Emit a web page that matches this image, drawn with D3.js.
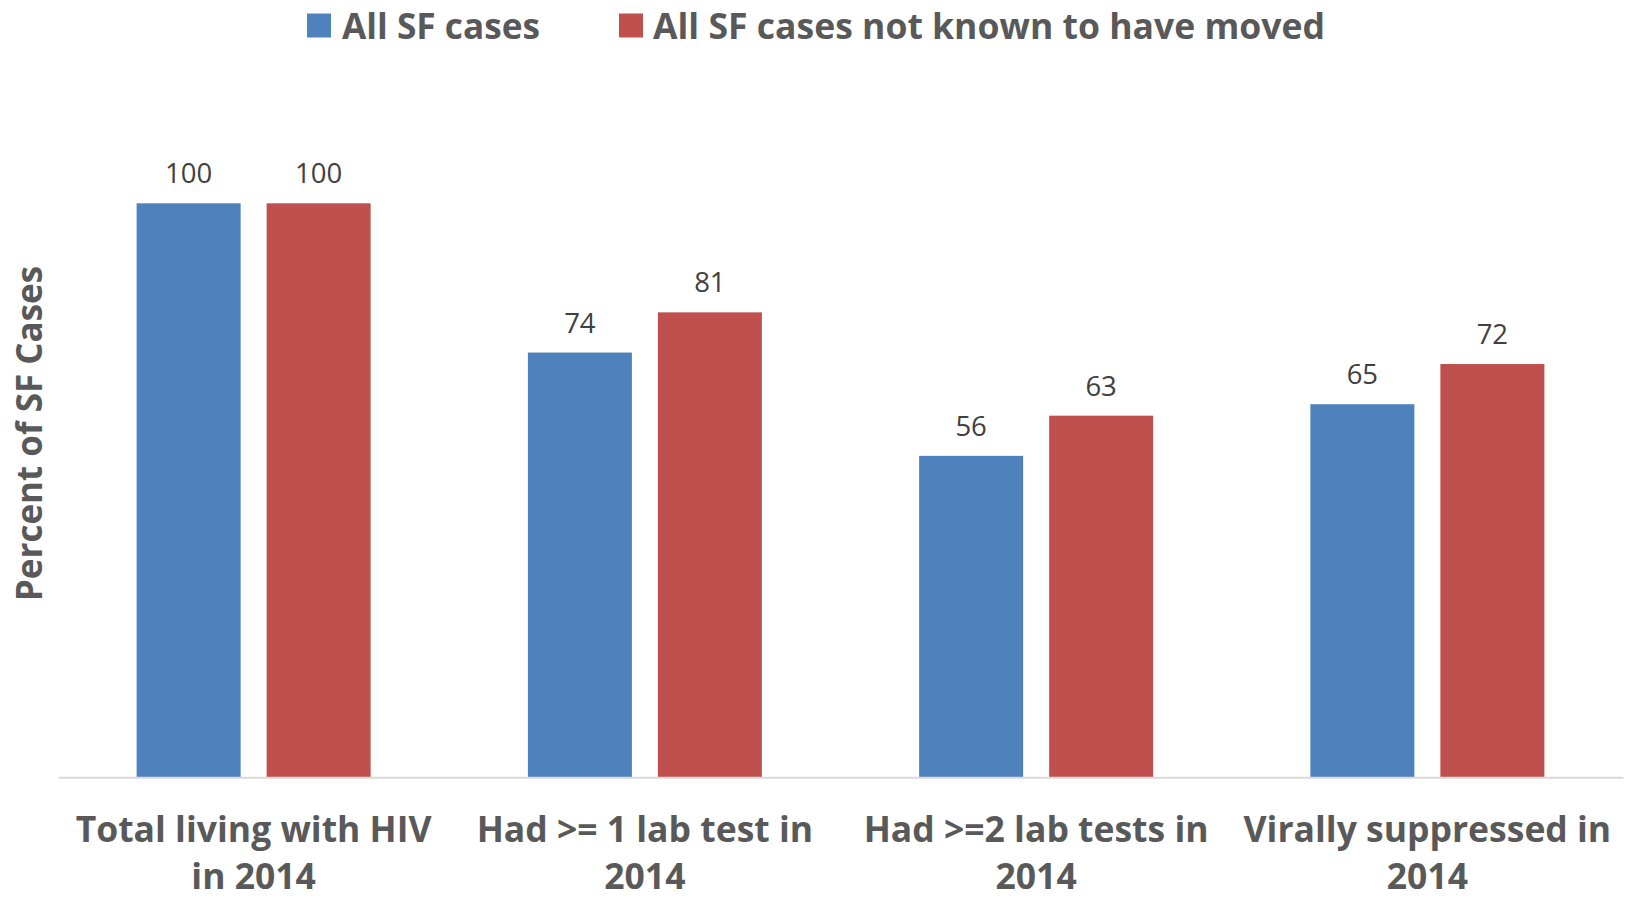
<!DOCTYPE html>
<html>
<head>
<meta charset="utf-8">
<script src="https://cdn.jsdelivr.net/npm/d3@7"></script>
<style>
  html, body { margin: 0; padding: 0; background: #ffffff; }
  svg { display: block; }
  text { font-family: "Open Sans", "Noto Sans", sans-serif; }
</style>
</head>
<body>
<svg id="chart" width="1628" height="901"></svg>
<script>
// ---- Data ----
const categories = [
  ["Total living with HIV", "in 2014"],
  ["Had >= 1 lab test in", "2014"],
  ["Had >=2 lab tests in", "2014"],
  ["Virally suppressed in", "2014"]
];
const seriesNames = ["All SF cases", "All SF cases not known to have moved"];
const allCases = [100, 74, 56, 65];
const notMoved = [100, 81, 63, 72];
const seriesValues = [allCases, notMoved];
const colors = ["#4F81BD", "#C0504D"];
const yTitle = "Percent of SF Cases";

// ---- Layout ----
const W = 1628, H = 901;
const plotLeft = 58, plotRight = 1623;
const baseY = 777.3, topY = 203.3;

const svg = d3.select("#chart");

const catKeys = categories.map((c, i) => i);
const x0 = d3.scaleBand().domain(catKeys).range([plotLeft, plotRight]).paddingInner(0).paddingOuter(0);
const groupW = 234;
const x1 = d3.scaleBand().domain(d3.range(seriesNames.length))
  .range([(x0.bandwidth() - groupW) / 2, (x0.bandwidth() + groupW) / 2])
  .paddingInner(0.2).paddingOuter(0);
const y = d3.scaleLinear().domain([0, 100]).range([baseY, topY]);

// Bars
const groups = svg.append("g").selectAll("g")
  .data(catKeys).join("g")
  .attr("transform", d => `translate(${x0(d)},0)`);

groups.selectAll("rect")
  .data(ci => seriesValues.map((vals, si) => ({ si, v: vals[ci] })))
  .join("rect")
  .attr("x", d => x1(d.si))
  .attr("width", x1.bandwidth())
  .attr("y", d => y(d.v))
  .attr("height", d => baseY - y(d.v))
  .attr("fill", d => colors[d.si]);

// Data labels
groups.selectAll("text.val")
  .data(ci => seriesValues.map((vals, si) => ({ si, v: vals[ci] })))
  .join("text")
  .attr("class", "val")
  .attr("x", d => x1(d.si) + x1.bandwidth() / 2)
  .attr("y", d => y(d.v) - 20)
  .attr("text-anchor", "middle")
  .attr("font-size", 27.5)
  .attr("fill", "#404040")
  .text(d => d.v);

// X axis baseline
const xAxis = d3.axisBottom(x0).tickSize(0).tickFormat("");
const axG = svg.append("g").attr("transform", `translate(0,${baseY})`).call(xAxis);
axG.select(".domain").attr("stroke", "#d9d9d9").attr("stroke-width", 2);

// Category labels
const catG = svg.append("g");
catKeys.forEach(ci => {
  const cx = x0(ci) + x0.bandwidth() / 2;
  const t = catG.append("text")
    .attr("text-anchor", "middle")
    .attr("font-size", 35.5)
    .attr("font-weight", 700)
    .attr("fill", "#595959");
  categories[ci].forEach((line, li) => {
    t.append("tspan").attr("x", cx).attr("y", 842 + li * 47).text(line);
  });
});

// Y title
svg.append("text")
  .attr("transform", `translate(42,433.5) rotate(-90)`)
  .attr("text-anchor", "middle")
  .attr("font-size", 35)
  .attr("font-weight", 700)
  .attr("fill", "#595959")
  .text(yTitle);

// Legend
const legendX = [307, 619];
const legendTextX = [342, 653];
const legendW = [198, 672];
seriesNames.forEach((name, i) => {
  svg.append("rect")
    .attr("x", legendX[i]).attr("y", 13.5)
    .attr("width", 24).attr("height", 24)
    .attr("fill", colors[i]);
  svg.append("text")
    .attr("x", legendTextX[i]).attr("y", 38.5)
    .attr("font-size", 35.5)
    .attr("font-weight", 700)
    .attr("fill", "#595959")
    .attr("textLength", legendW[i])
    .attr("lengthAdjust", "spacingAndGlyphs")
    .text(name);
});
</script>
</body>
</html>
